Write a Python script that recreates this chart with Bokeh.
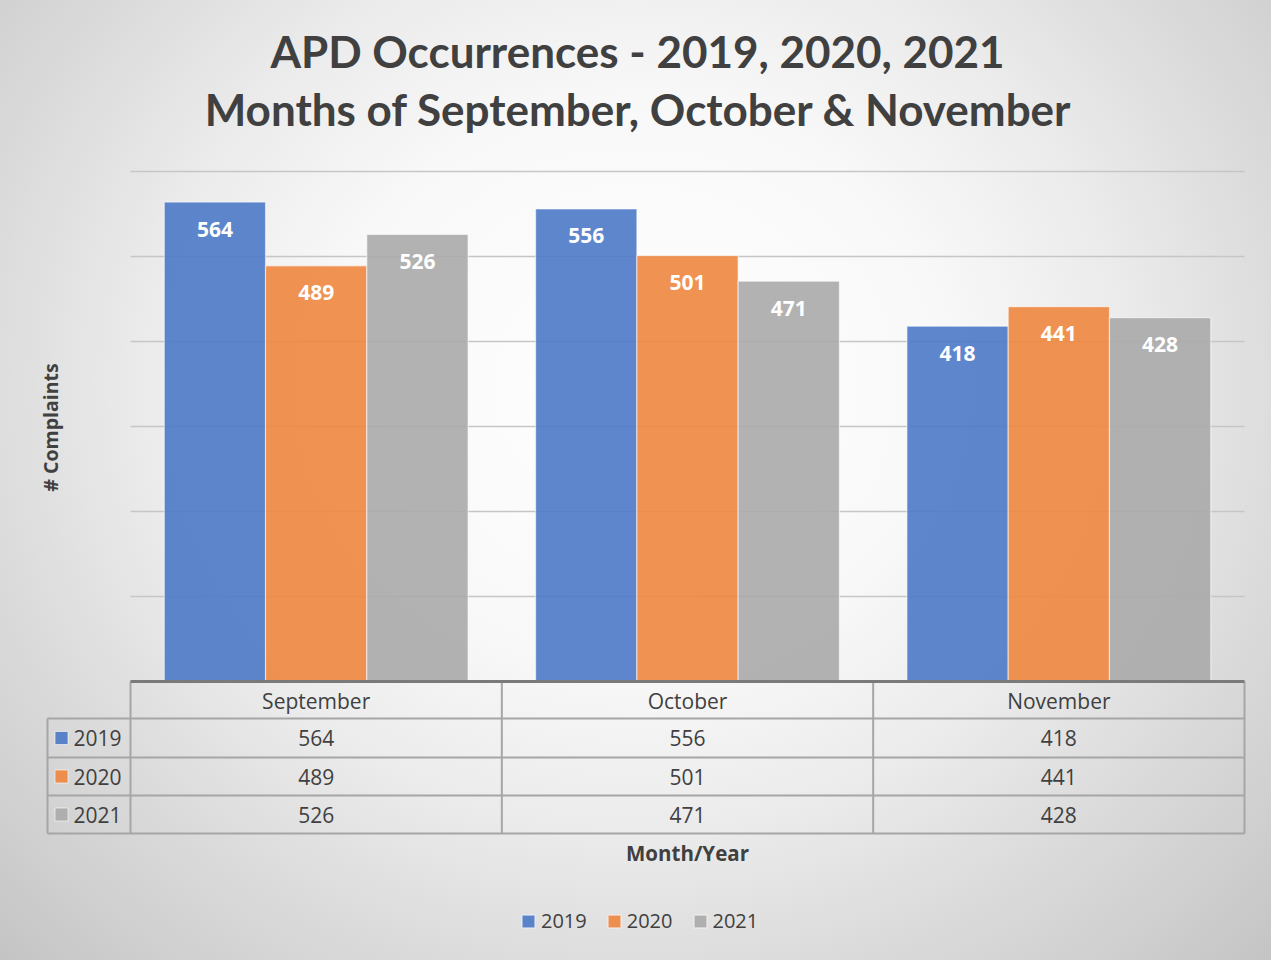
import math
from bokeh.plotting import figure
from bokeh.models import Range1d, Legend, LegendItem
from bokeh.core.properties import value
from bokeh.embed import file_html
from bokeh.resources import INLINE

# ---------------- data ----------------
months = ["September", "October", "November"]
years = ["2019", "2020", "2021"]
v2019 = [564, 556, 418]
v2020 = [489, 501, 441]
v2021 = [526, 471, 428]
y_ticks = [100, 200, 300, 400, 500, 600]
title_lines = ["APD Occurrences - 2019, 2020, 2021",
               "Months of September, October & November"]
y_title = "# Complaints"
x_title = "Month/Year"

series = [v2019, v2020, v2021]
colors = ["#4B79C7", "#EE863F", "#AAAAAA"]

# ---------------- layout (page pixels -> data) ----------------
W, H = 1271, 960
OX, OY = 8, 8           # page offset
X0, PXU = 138.0, 371.333  # page x of category 0, px per category
Y0, PYU = 689.0, 0.85     # page y of value 0, px per unit

def dx(X):
    return (X - X0) / PXU

def dy(Y):
    return (Y0 - Y) / PYU

TXT = "#404040"
FONT = "Open Sans"

p = figure(width=W, height=H, output_backend="svg", toolbar_location=None,
           x_range=Range1d(dx(OX), dx(OX + W)), y_range=Range1d(dy(OY + H), dy(OY)),
           x_axis_location=None, y_axis_location=None, min_border=0)
p.grid.visible = False
p.outline_line_color = None
p.background_fill_alpha = 0
p.border_fill_alpha = 0
p.title.visible = False
p.styles = {"background": "radial-gradient(ellipse farthest-corner at 50% 40%, #ffffff 0%, #f8f8f8 35%, #ebebeb 55%, #dcdcdc 72%, #cfcfcf 88%, #c4c4c4 100%)"}

ncat = len(months)
# gridlines
p.segment(x0=[0] * len(y_ticks), x1=[ncat] * len(y_ticks), y0=y_ticks, y1=y_ticks,
          line_color="#c6c6c6", line_width=1.5)

# bars
bw = 0.2727
renderers = []
for k, (vals, col) in enumerate(zip(series, colors)):
    xs = [i + 0.5 + (k - 1) * bw for i in range(ncat)]
    r = p.vbar(x=xs, top=vals, bottom=0, width=bw, fill_color=col, fill_alpha=0.9,
               line_color="#ffffff", line_alpha=0.55, line_width=1.2)
    renderers.append(r)
    p.text(x=xs, y=vals, text=[str(v) for v in vals], text_color="#ffffff",
           text_font=value(FONT), text_font_style="bold", text_font_size="21px",
           text_align="center", text_baseline="middle", y_offset=27)

# ---------------- data table ----------------
row_px = [689, 726, 765, 803, 841]
left_col = dx(55)
# horizontal lines
p.segment(x0=[left_col] * 4, x1=[ncat] * 4, y0=[dy(y) for y in row_px[1:]],
          y1=[dy(y) for y in row_px[1:]], line_color="#a6a6a6", line_width=2)
# vertical lines
p.segment(x0=list(range(ncat + 1)), x1=list(range(ncat + 1)),
          y0=[dy(row_px[0])] * (ncat + 1), y1=[dy(row_px[-1])] * (ncat + 1),
          line_color="#a6a6a6", line_width=2)
p.segment(x0=[left_col], x1=[left_col], y0=[dy(row_px[1])], y1=[dy(row_px[-1])],
          line_color="#a6a6a6", line_width=2)
# axis line at 0
p.segment(x0=[0], x1=[ncat], y0=[0], y1=[0], line_color="#7a7a7a", line_width=3)

# header
p.text(x=[i + 0.5 for i in range(ncat)], y=[dy((row_px[0] + row_px[1]) / 2 + 1)] * ncat,
       text=months, text_color=TXT, text_font=value(FONT), text_font_size="21px",
       text_align="center", text_baseline="middle")
# rows
for k, (vals, col, yr) in enumerate(zip(series, colors, years)):
    yc = dy((row_px[k + 1] + row_px[k + 2]) / 2)
    p.text(x=[i + 0.5 for i in range(ncat)], y=[yc] * ncat, text=[str(v) for v in vals],
           text_color=TXT, text_font=value(FONT), text_font_size="21px",
           text_align="center", text_baseline="middle")
    p.scatter(x=[dx(69)], y=[yc], marker="square", size=13, fill_color=col,
              fill_alpha=0.9, line_color="#ffffff", line_alpha=0.6)
    p.text(x=[dx(81)], y=[yc], text=[yr], text_color=TXT, text_font=value(FONT),
           text_font_size="21px", text_align="left", text_baseline="middle")

# ---------------- titles ----------------
p.text(x=[dx(645), dx(646)], y=[dy(58), dy(116)], text=title_lines, text_color=TXT,
       text_font=value("Lato"), text_font_style="bold", text_font_size="44px",
       text_align="center", text_baseline="middle")
p.text(x=[dx(695)], y=[dy(860)], text=[x_title], text_color=TXT,
       text_font=value(FONT), text_font_style="bold", text_font_size="20.5px",
       text_align="center", text_baseline="middle")
p.text(x=[dx(58)], y=[dy(435)], text=[y_title], text_color=TXT, angle=math.pi / 2,
       text_font=value(FONT), text_font_style="bold", text_font_size="19.5px",
       text_align="center", text_baseline="middle")

# ---------------- legend ----------------
legend = Legend(items=[LegendItem(label=yr, renderers=[r]) for yr, r in zip(years, renderers)],
                orientation="horizontal", location=(520, 26), glyph_width=16, glyph_height=16,
                label_standoff=5, spacing=19, padding=0, margin=0,
                background_fill_alpha=0, border_line_alpha=0,
                label_text_font=FONT, label_text_font_size="20px", label_text_color=TXT)
p.add_layout(legend)

open("out.html", "w").write(file_html(p, INLINE))
